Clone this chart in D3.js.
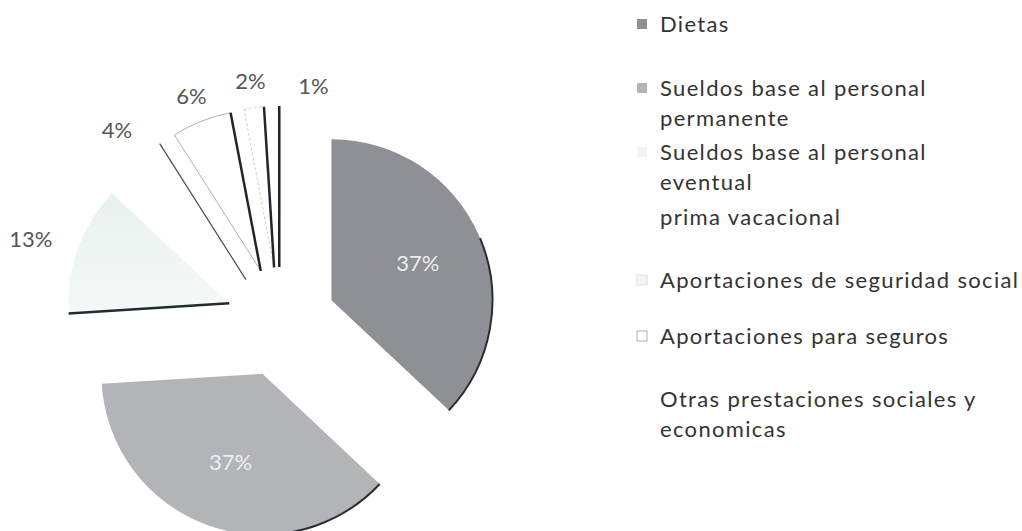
<!DOCTYPE html>
<html>
<head>
<meta charset="utf-8">
<script src="https://cdn.jsdelivr.net/npm/d3@7"></script>
<style>
  body { margin: 0; background: #fff; }
  text { font-family: Lato, "Open Sans", sans-serif; }
</style>
</head>
<body>
<div class="chart"></div>
<script>
// data
var categories = ["Dietas", "Sueldos base al personal permanente", "Sueldos base al personal eventual",
  "prima vacacional", "Aportaciones de seguridad social", "Aportaciones para seguros",
  "Otras prestaciones sociales y economicas"];
var values = [37, 37, 13, 4, 6, 2, 1];
var pctLabels = ["37%", "37%", "13%", "4%", "6%", "2%", "1%"];
var legendLines = [["Dietas"], ["Sueldos base al personal", "permanente"], ["Sueldos base al personal", "eventual"],
  ["prima vacacional"], ["Aportaciones de seguridad social"], ["Aportaciones para seguros"],
  ["Otras prestaciones sociales y", "economicas"]];

// look of each slice (scanned office chart)
var fills = ["#8e9095", "#b3b4b8", "url(#faint)", "#ffffff", "#ffffff", "#ffffff", "#ffffff"];
var outlines = ["none", "none", "none", "none", "#9a9a9a", "#c4c4c4", "none"];
var dashes = [null, null, null, null, null, "3,2", null];
var legendFills = ["#8e9095", "#b3b4b8", "#f3f3f3", "none", "#f4f4f4", "#ffffff", "none"];
var legendStrokes = ["none", "none", "none", "none", "#d8d8d8", "#9a9a9a", "none"];

var svgWidth = 1022;
var svgHeight = 531;
var cx = 281, cy = 322;
var radius = 161;
var explode = 55;

var svg = d3.select(".chart")
  .append("svg")
  .attr("width", svgWidth)
  .attr("height", svgHeight);

var grad = svg.append("defs").append("linearGradient")
  .attr("id", "faint")
  .attr("x1", 0).attr("y1", 0).attr("x2", 0).attr("y2", 1);
grad.append("stop").attr("offset", "0%").attr("stop-color", "#e8f1ef");
grad.append("stop").attr("offset", "100%").attr("stop-color", "#f6f8f8");

var pie = d3.pie().sort(null).value(function(d) { return d; });
var arcs = pie(values);

var arc = d3.arc().innerRadius(0).outerRadius(radius);

function mid(d) { return (d.startAngle + d.endAngle) / 2; }

var slices = svg.append("g").selectAll("g")
  .data(arcs)
  .enter().append("g")
  .attr("transform", function(d) {
    var m = mid(d);
    return "translate(" + (cx + explode * Math.sin(m)) + "," + (cy - explode * Math.cos(m)) + ")";
  });

slices.append("path")
  .attr("d", arc)
  .attr("fill", function(d, i) { return fills[i]; })
  .attr("stroke", function(d, i) { return outlines[i]; })
  .attr("stroke-width", 0.8)
  .attr("stroke-dasharray", function(d, i) { return dashes[i]; });

// dark edges from the print
function radial(a) {
  return "M0,0L" + (radius * Math.sin(a)) + "," + (-radius * Math.cos(a));
}
function rim(a0, a1) {
  var p = d3.path();
  p.arc(0, 0, radius, a0 - Math.PI / 2, a1 - Math.PI / 2);
  return p.toString();
}

slices.each(function(d, i) {
  var g = d3.select(this);
  if (i === 0) {
    g.append("path").attr("d", rim(d.endAngle - 1.15, d.endAngle))
      .attr("fill", "none").attr("stroke", "#2a2e33").attr("stroke-width", 2);
  } else if (i === 1) {
    g.append("path").attr("d", rim(d.startAngle, d.startAngle + 0.95))
      .attr("fill", "none").attr("stroke", "#2a2e33").attr("stroke-width", 2);
  } else if (i === 2) {
    g.append("path").attr("d", radial(d.startAngle))
      .attr("stroke", "#1f2b33").attr("stroke-width", 2.5);
  } else if (i === 3) {
    g.append("path").attr("d", radial(d.endAngle))
      .attr("stroke", "#4a4a4a").attr("stroke-width", 1.2);
  } else {
    g.append("path").attr("d", radial(d.endAngle))
      .attr("stroke", "#20262b").attr("stroke-width", 2.5);
  }
});

// percentage labels
function labelR(i) { return i < 2 ? 94 : 188; }
slices.append("text")
  .attr("x", function(d, i) {
    return labelR(i) * Math.sin(mid(d)) + (i === 6 ? 40 : 0) + (i === 3 ? 6 : 0);
  })
  .attr("y", function(d, i) {
    return -labelR(i) * Math.cos(mid(d)) + (i === 6 ? 7 : 0) + (i === 3 ? -4 : 0);
  })
  .attr("dy", "0.35em")
  .attr("text-anchor", function(d, i) {
    return (i >= 2 && Math.sin(mid(d)) < -0.5) ? "end" : "middle";
  })
  .style("font-size", "22px")
  .style("fill", function(d, i) { return i < 2 ? "#eceef0" : "#555"; })
  .text(function(d, i) { return pctLabels[i]; });

// legend
var legendX = 637;
var textX = 660;
var lineH = 30;
var legendTop = [24, 88, 152, 217, 280, 336, 399];
var widestLine = 358; // "Aportaciones de seguridad social" in the picture

var legend = svg.append("g").selectAll("g")
  .data(categories)
  .enter().append("g")
  .attr("transform", function(d, i) { return "translate(" + legendX + "," + legendTop[i] + ")"; });

legend.append("rect")
  .attr("x", 0).attr("y", -5)
  .attr("width", 10).attr("height", 10)
  .attr("fill", function(d, i) { return legendFills[i]; })
  .attr("stroke", function(d, i) { return legendStrokes[i]; })
  .attr("stroke-width", 0.8);

var legendTexts = legend.append("text")
  .attr("x", textX - legendX)
  .attr("y", 0)
  .style("font-size", "22px")
  .style("fill", "#333");

legendTexts.each(function(d, i) {
  var t = d3.select(this);
  legendLines[i].forEach(function(line, j) {
    t.append("tspan").attr("x", textX - legendX).attr("y", j * lineH).attr("dy", "0.35em").text(line);
  });
});

// spread letters so the widest line matches the scanned width
var probe = legendTexts.filter(function(d, i) { return i === 4; }).node();
var w = probe.getComputedTextLength();
var n = legendLines[4][0].length;
var spacing = Math.max(-0.5, (widestLine - w) / (n - 1));
legendTexts.style("letter-spacing", spacing + "px");
</script>
</body>
</html>
